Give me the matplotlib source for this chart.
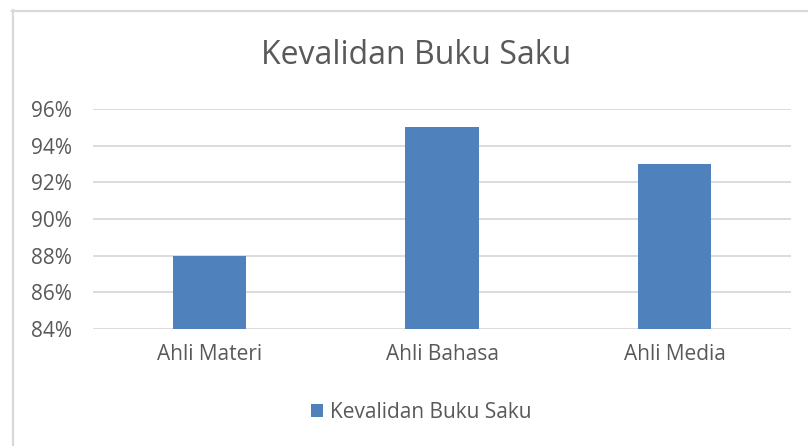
import matplotlib.pyplot as plt
from matplotlib.lines import Line2D
from matplotlib.ticker import FuncFormatter

# data
kategori = ['Ahli Materi', 'Ahli Bahasa', 'Ahli Media']
nilai = [88, 95, 93]
seri = 'Kevalidan Buku Saku'

plt.rcParams['font.family'] = ['Open Sans', 'DejaVu Sans']
abu = '#595959'
biru = '#4f81bd'
garis = '#d9d9d9'

W, H = 808, 446
fig = plt.figure(figsize=(W / 100, H / 100), dpi=100)

# chart border (cropped on right / bottom)
fig.add_artist(Line2D([12.5 / W, 12.5 / W], [0, 1 - 10 / H], color=garis, lw=1.6))
fig.add_artist(Line2D([12 / W, 1], [1 - 10.5 / H, 1 - 10.5 / H], color=garis, lw=1.6))

ax = fig.add_axes([93 / W, 1 - 329 / H, 698 / W, 220 / H])
x = range(len(kategori))
ax.bar(x, nilai, width=0.315, color=biru, label=seri, zorder=3)
ax.set_xlim(-0.5, len(kategori) - 0.5)
ax.set_ylim(84, 96)
ax.set_yticks(range(84, 97, 2))
ax.yaxis.set_major_formatter(FuncFormatter(lambda v, p: f'{v:.0f}%'))
ax.set_xticks(list(x))
ax.set_xticklabels(kategori)
ax.grid(axis='y', color=garis, lw=1.3, zorder=0)
for s in ax.spines.values():
    s.set_visible(False)
ax.tick_params(length=0, labelsize=15, colors=abu)
ax.tick_params(axis='y', pad=15)
ax.tick_params(axis='x', pad=11)

fig.text(416 / W, 1 - 55 / H, 'Kevalidan Buku Saku', ha='center', va='center',
         fontsize=23, color=abu)

ax.legend(loc='center', bbox_to_anchor=(421 / W, 1 - 412 / H), bbox_transform=fig.transFigure,
          frameon=False, handlelength=0.6, handleheight=0.6, handletextpad=0.3,
          prop={'size': 15}, labelcolor=abu)

fig.savefig('out.png', dpi=100, facecolor='white')
